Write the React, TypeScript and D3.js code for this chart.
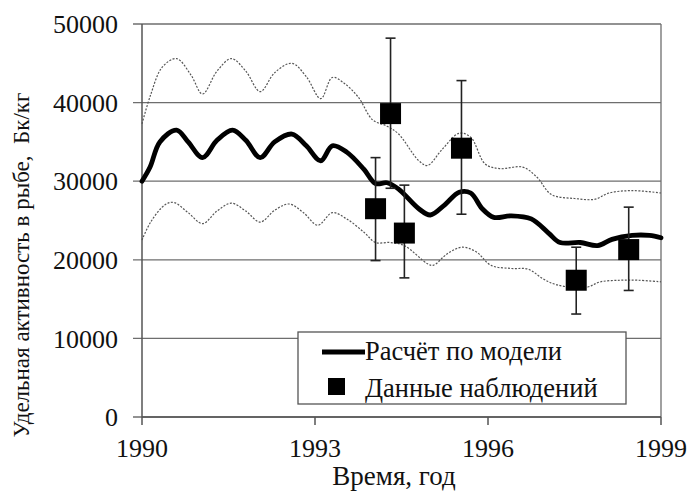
import React from "react";
import * as d3 from "d3";

// Model curve (year, Bq/kg)
const modelYears = [1990.0, 1990.14, 1990.31, 1990.6, 1990.8, 1991.05, 1991.3, 1991.57, 1991.8, 1992.05, 1992.3, 1992.6, 1992.85, 1993.1, 1993.3, 1993.55, 1993.85, 1994.05, 1994.25, 1994.45, 1994.8, 1995.0, 1995.25, 1995.5, 1995.7, 1995.9, 1996.1, 1996.4, 1996.75, 1997.05, 1997.25, 1997.6, 1997.9, 1998.15, 1998.5, 1998.8, 1999.0];
const modelValues = [30000, 31800, 35000, 36500, 35000, 33000, 35200, 36500, 35200, 33000, 35000, 36000, 34500, 32600, 34500, 33700, 31500, 29700, 29800, 29000, 26500, 25700, 27000, 28600, 28500, 26500, 25400, 25600, 25200, 23400, 22200, 22200, 21800, 22600, 23100, 23100, 22800];

// Upper confidence bound
const upperYears = [1990.0, 1990.15, 1990.35, 1990.6, 1990.85, 1991.05, 1991.3, 1991.55, 1991.8, 1992.05, 1992.3, 1992.6, 1992.85, 1993.1, 1993.3, 1993.5, 1993.75, 1994.0, 1994.25, 1994.45, 1994.8, 1994.95, 1995.2, 1995.5, 1995.7, 1995.95, 1996.2, 1996.6, 1996.85, 1997.1, 1997.5, 1997.85, 1998.1, 1998.5, 1999.0];
const upperValues = [37300, 41000, 44500, 45600, 43500, 41100, 44000, 45600, 44000, 41400, 43800, 45000, 43300, 40500, 43200, 42500, 40700, 37800, 37000, 36000, 32600, 32000, 34000, 36100, 35600, 32200, 31600, 31800, 30500, 28300, 27800, 27700, 28500, 28800, 28500];

// Lower confidence bound
const lowerYears = [1990.0, 1990.15, 1990.4, 1990.55, 1990.8, 1991.05, 1991.3, 1991.55, 1991.8, 1992.05, 1992.3, 1992.55, 1992.8, 1993.05, 1993.3, 1993.55, 1993.85, 1994.05, 1994.3, 1994.55, 1994.95, 1995.05, 1995.3, 1995.55, 1995.8, 1996.05, 1996.4, 1996.7, 1996.95, 1997.2, 1997.7, 1997.95, 1998.3, 1998.6, 1999.0];
const lowerValues = [22500, 24800, 27000, 27300, 26000, 24600, 26200, 27200, 26200, 24800, 26300, 27100, 26000, 24400, 26000, 25200, 23500, 22200, 22200, 21800, 19500, 19300, 20800, 21600, 21000, 19300, 18900, 18800, 17600, 16800, 16500, 17200, 17400, 17400, 17200];

// Observations with error ranges
const obsYears = [1994.05, 1994.31, 1994.55, 1995.54, 1997.53, 1998.44];
const obsValues = [26500, 38600, 23400, 34200, 17400, 21300];
const obsLow = [19900, 29100, 17700, 25800, 13100, 16100];
const obsHigh = [33000, 48200, 29500, 42800, 21600, 26700];

const yTicks = [0, 10000, 20000, 30000, 40000, 50000];
const xTicks = [1990, 1993, 1996, 1999];

const W = 689;
const H = 492;
const left = 142;
const right = 661;
const top = 24;
const bottom = 417;
const serif = { fontFamily: '"Liberation Serif", "Times New Roman", serif' };

export default function App() {
  const x = d3.scaleLinear().domain([1990, 1999]).range([left, right]);
  const y = d3.scaleLinear().domain([0, 50000]).range([bottom, top]);

  const line = d3
    .line<[number, number]>()
    .x((d) => x(d[0]))
    .y((d) => y(d[1]))
    .curve(d3.curveCatmullRom.alpha(0.5));

  const model = line(modelYears.map((t, i) => [t, modelValues[i]]) as [number, number][]) || "";
  const upper = line(upperYears.map((t, i) => [t, upperValues[i]]) as [number, number][]) || "";
  const lower = line(lowerYears.map((t, i) => [t, lowerValues[i]]) as [number, number][]) || "";

  const sq = 21;
  const cap = 5;

  return (
    <div style={{ position: "absolute", left: 0, top: 0 }}>
      <svg width={W} height={H} style={{ display: "block", background: "#fff" }}>
        {/* horizontal grid */}
        {yTicks.map((v) => (
          <line key={"g" + v} x1={left - 9} x2={right} y1={y(v)} y2={y(v)} stroke="#6e6e6e" strokeWidth={1.3} />
        ))}
        {/* right frame */}
        <line x1={right} x2={right} y1={top} y2={bottom} stroke="#6e6e6e" strokeWidth={1.3} />
        {/* axes */}
        <line x1={left} x2={left} y1={top} y2={bottom} stroke="#555" strokeWidth={1.5} />
        <line x1={left} x2={right} y1={bottom} y2={bottom} stroke="#555" strokeWidth={1.5} />
        {xTicks.map((t) => (
          <line key={"xt" + t} x1={x(t)} x2={x(t)} y1={bottom} y2={bottom + 8} stroke="#555" strokeWidth={1.5} />
        ))}

        {/* confidence bounds */}
        <path d={upper} fill="none" stroke="#555" strokeWidth={1.2} strokeDasharray="2 1.5" />
        <path d={lower} fill="none" stroke="#555" strokeWidth={1.2} strokeDasharray="2 1.5" />

        {/* model curve */}
        <path d={model} fill="none" stroke="#000" strokeWidth={4.8} strokeLinejoin="round" strokeLinecap="round" />

        {/* observations */}
        {obsYears.map((t, i) => (
          <g key={"o" + i}>
            <line x1={x(t)} x2={x(t)} y1={y(obsLow[i])} y2={y(obsHigh[i])} stroke="#222" strokeWidth={1.6} />
            <line x1={x(t) - cap} x2={x(t) + cap} y1={y(obsLow[i])} y2={y(obsLow[i])} stroke="#222" strokeWidth={1.6} />
            <line x1={x(t) - cap} x2={x(t) + cap} y1={y(obsHigh[i])} y2={y(obsHigh[i])} stroke="#222" strokeWidth={1.6} />
            <rect x={x(t) - sq / 2} y={y(obsValues[i]) - sq / 2} width={sq} height={sq} fill="#000" />
          </g>
        ))}

        <g style={serif} fill="#111">
          {/* y tick labels */}
          {yTicks.map((v) => (
            <text key={"yl" + v} x={118} y={y(v)} dy="0.35em" textAnchor="end" fontSize={26}>
              {v}
            </text>
          ))}
          {/* x tick labels */}
          {xTicks.map((t) => (
            <text key={"xl" + t} x={x(t)} y={457} textAnchor="middle" fontSize={26}>
              {t}
            </text>
          ))}

          {/* axis titles */}
          <text x={394} y={485} textAnchor="middle" fontSize={27}>
            Время, год
          </text>
          <text transform={`translate(29, 265) rotate(-90)`} textAnchor="middle" fontSize={23} style={{ whiteSpace: "pre" }}>
            {"Удельная активность в рыбе,  Бк/кг"}
          </text>
        </g>

        {/* legend */}
        <rect x={298} y={332} width={328} height={72} fill="#fff" stroke="#555" strokeWidth={1.3} />
        <line x1={322} x2={365} y1={352} y2={352} stroke="#000" strokeWidth={4.8} />
        <rect x={328} y={378} width={17} height={17} fill="#000" />
        <g style={serif} fill="#111">
          <text x={365} y={360} fontSize={26.5}>
            Расчёт по модели
          </text>
          <text x={365} y={397} fontSize={26.5}>
            Данные наблюдений
          </text>
        </g>
      </svg>
    </div>
  );
}
